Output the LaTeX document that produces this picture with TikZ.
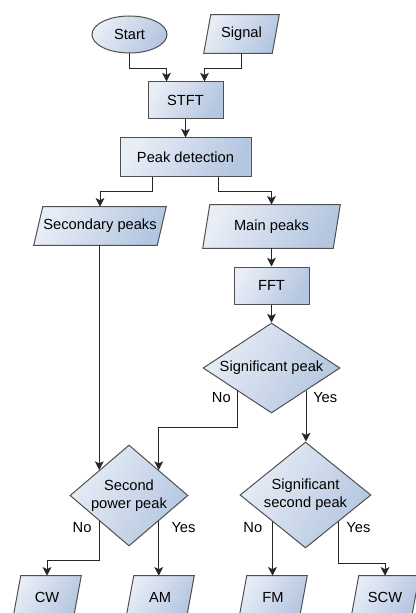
\documentclass[tikz,border=0pt]{standalone}
\usepackage{fontspec}
\setmainfont{Liberation Sans}
\usetikzlibrary{shapes.geometric,arrows.meta,calc,backgrounds}

\definecolor{boxlight}{HTML}{E8EDF6}
\definecolor{boxdark}{HTML}{B4C6E0}
\definecolor{edgegray}{HTML}{505050}

\tikzset{
  boxfill/.style={draw=edgegray, line width=0.75pt, top color=boxlight, bottom color=boxdark, shading angle=60},
  size/.style 2 args={minimum width=#1*0.75pt, minimum height=#2*0.75pt},
  textfont/.style={font=\fontsize{11}{13.5}\selectfont},
  procbox/.style={boxfill, rectangle, inner sep=0pt, textfont},
  iobox/.style={rectangle, inner sep=0pt, textfont},
  startbox/.style={boxfill, ellipse, inner sep=0pt, textfont},
  decision/.style={boxfill, diamond, inner sep=0pt, align=center, textfont},
  arr/.style={draw=black!85, line width=0.75pt, -{Stealth[length=6.5pt, width=6.5pt, inset=1.6pt]}},
  lbl/.style={textfont, inner sep=0pt},
}

\begin{document}
\begin{tikzpicture}[x=0.75pt, y=-0.75pt]
  \useasboundingbox (0,0) rectangle (415,613);
  \clip (0,0) rectangle (415,613);

  % process, start and decision nodes
  \node[startbox, size={75}{37}] (start) at (129.5,34.5) {Start};
  \node[iobox, size={75}{38}] (signal) at (241.5,34) {Signal};
  \node[procbox, size={75}{37}] (stft) at (185.5,100.5) {STFT};
  \node[procbox, size={131}{38}] (peak) at (185.5,157) {Peak detection};
  \node[iobox, size={132}{38}] (secondary) at (100,226) {Secondary peaks};
  \node[iobox, size={137}{43}] (main) at (271.5,226.5) {Main peaks};
  \node[procbox, size={75}{37}] (fft) at (271.5,285.5) {FFT};
  \node[decision, aspect=1.52, size={137}{90}] (sp) at (271.5,368) {Significant peak};
  \node[decision, aspect=1.17, size={118}{101}] (spp) at (129,495.5) {Second\\power peak};
  \node[decision, aspect=1.24, size={131}{106}] (ssp) at (305.5,495) {Significant\\second peak};
  \node[iobox, size={68}{43}] (cw) at (47,597.5) {CW};
  \node[iobox, size={68}{43}] (am) at (160,597.5) {AM};
  \node[iobox, size={68}{43}] (fm) at (273,597.5) {FM};
  \node[iobox, size={68}{43}] (scw) at (385,597.5) {SCW};

  % slanted data boxes behind their labels
  \begin{scope}[on background layer]
    \foreach \n/\s in {signal/7, secondary/9, main/7, cw/8, am/8, fm/8, scw/8}
      \path[boxfill] ($(\n.north west)+(\s,0)$) -- (\n.north east)
        -- ($(\n.south east)-(\s,0)$) -- (\n.south west) -- cycle;
  \end{scope}

  % connectors
  \draw[arr] (start.south) -- ++(0,15) -| ($(stft.north west)!0.25!(stft.north east)$);
  \draw[arr] (signal.south) -- ++(0,15) -| ($(stft.north west)!0.75!(stft.north east)$);
  \draw[arr] (stft) -- (peak);
  \draw[arr] ($(peak.south west)!0.25!(peak.south east)$) -- ++(0,15) -| (secondary.north);
  \draw[arr] ($(peak.south west)!0.75!(peak.south east)$) -- ++(0,15) -| (main.north);
  \draw[arr] (main) -- (fft);
  \draw[arr] (fft) -- (sp);
  \draw[arr] (spp.north west |- secondary.south) -- (spp.north west);
  \draw[arr] (sp.south west) -- ++(0,36.5) -| (spp.north east);
  \draw[arr] (sp.south east) -- (sp.south east |- ssp.north);
  \draw[arr] (spp.south west) -- ++(0,39) -| (cw.north);
  \draw[arr] (spp.south east) -- (spp.south east |- am.north);
  \draw[arr] (ssp.south west) -- (ssp.south west |- fm.north);
  \draw[arr] (ssp.south east) -- ++(0,41.5) -| (scw.north);

  % branch labels
  \node[lbl, anchor=east] (spno) at ($(sp.south west)+(-6,7)$) {No};
  \node[lbl, anchor=west] (spyes) at ($(sp.south east)+(7,7)$) {Yes};
  \node[lbl, anchor=east] (sppno) at ($(spp.south west)+(-7.5,7)$) {No};
  \node[lbl, anchor=west] (sppyes) at ($(spp.south east)+(12.5,7)$) {Yes};
  \node[lbl, anchor=east] (sspno) at ($(ssp.south west)+(-10,6)$) {No};
  \node[lbl, anchor=west] (sspyes) at ($(ssp.south east)+(7.7,6)$) {Yes};
\end{tikzpicture}
\end{document}
